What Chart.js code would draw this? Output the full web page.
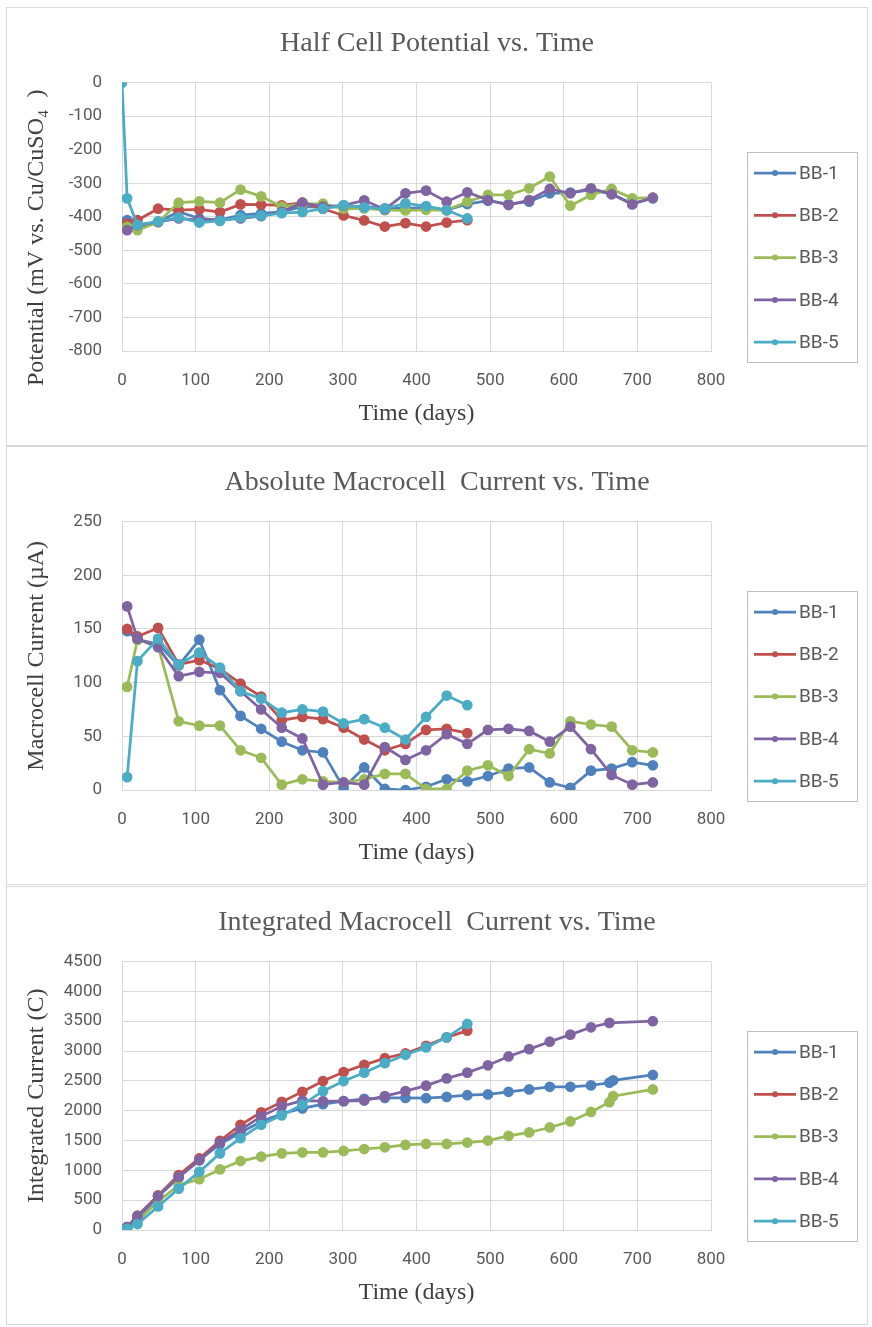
<!DOCTYPE html>
<html>
<head>
<meta charset="utf-8">
<script src="https://cdn.jsdelivr.net/npm/chart.js@4.4.1/dist/chart.umd.min.js"></script>
<style>
  body { margin: 0; background: #fff; width: 872px; height: 1327px; position: relative; overflow: hidden; }
  .panel { position: absolute; left: 6px; width: 860px; height: 437px; border: 1px solid #d9d9d9; background: #fff; }
  .panel canvas { display: block; }
</style>
</head>
<body>
<div class="panel" style="top:7px"><canvas id="chart-potential" width="860" height="437"></canvas></div>
<div class="panel" style="top:446px"><canvas id="chart-current" width="860" height="437"></canvas></div>
<div class="panel" style="top:886px"><canvas id="chart-integrated" width="860" height="437"></canvas></div>
<script>
// Serier och färger
const seriesNames = ["BB-1", "BB-2", "BB-3", "BB-4", "BB-5"];
const seriesColors = ["#4F81BD", "#C0504D", "#9BBB59", "#8064A2", "#4BACC6"];

// Mätdagar (dagar)
const days = [0, 7, 21, 49, 77, 105, 133, 161, 189, 217, 245, 273, 301, 329, 357, 385, 413, 441, 469, 497, 525, 553, 581, 609, 637, 665, 693, 721];
const daysIntegrated = [0, 7, 21, 49, 77, 105, 133, 161, 189, 217, 245, 273, 301, 329, 357, 385, 413, 441, 469, 497, 525, 553, 581, 609, 637, 662, 667, 721];

// Halvcellspotential (mV vs. Cu/CuSO4)
const potentialBB1 = [null, -410, -430, -415, -385, -405, -410, -395, -390, -385, -370, -372, -370, -370, -375, -375, -372, -380, -362, -352, -362, -355, -330, -328, -320, -332, -360, -345];
const potentialBB2 = [null, -420, -410, -376, -380, -378, -386, -363, -364, -366, -358, -376, -396, -411, -429, -419, -429, -417, -410, null, null, null, null, null, null, null, null, null];
const potentialBB3 = [null, -430, -440, -416, -358, -354, -358, -319, -339, -370, -362, -361, -376, -375, -380, -381, -379, -380, -355, -335, -335, -315, -280, -367, -335, -317, -345, -343];
const potentialBB4 = [null, -440, -425, -415, -405, -410, -410, -405, -398, -385, -358, -370, -366, -351, -378, -330, -322, -355, -327, -350, -365, -350, -317, -330, -315, -333, -363, -343];
const potentialBB5 = [0, -345, -424, -414, -402, -417, -412, -402, -397, -389, -386, -376, -365, -372, -376, -360, -368, -380, -405, null, null, null, null, null, null, null, null, null];

// Makrocellström (µA)
const currentBB1 = [null, 148, 140, 136, 116, 140, 93, 69, 57, 45, 37, 35, 2, 21, 1, 0, 3, 10, 8, 13, 20, 21, 7, 2, 18, 20, 26, 23];
const currentBB2 = [null, 150, 143, 151, 117, 121, 113, 99, 87, 65, 68, 66, 58, 47, 37, 43, 56, 57, 53, null, null, null, null, null, null, null, null, null];
const currentBB3 = [null, 96, 140, 134, 64, 60, 60, 37, 30, 5, 10, 8, 7, 10, 15, 15, 1, 1, 18, 23, 13, 38, 34, 64, 61, 59, 37, 35];
const currentBB4 = [null, 171, 141, 133, 106, 110, 109, 92, 75, 58, 48, 5, 7, 5, 40, 28, 37, 52, 43, 56, 57, 55, 45, 59, 38, 14, 5, 7];
const currentBB5 = [null, 12, 120, 141, 117, 128, 114, 92, 85, 72, 75, 73, 62, 66, 58, 47, 68, 88, 79, null, null, null, null, null, null, null, null, null];

// Integrerad ström (C)
const integratedBB1 = [0, 40, 180, 560, 880, 1170, 1440, 1630, 1820, 1950, 2040, 2110, 2160, 2200, 2215, 2215, 2210, 2232, 2260, 2272, 2317, 2356, 2401, 2401, 2424, 2469, 2508, 2599];
const integratedBB2 = [0, 50, 240, 580, 920, 1200, 1494, 1764, 1973, 2148, 2317, 2497, 2649, 2768, 2880, 2960, 3089, 3230, 3343, null, null, null, null, null, null, null, null, null];
const integratedBB3 = [0, 30, 150, 480, 750, 851, 1015, 1156, 1229, 1285, 1302, 1302, 1325, 1358, 1387, 1426, 1443, 1443, 1466, 1500, 1578, 1635, 1719, 1821, 1979, 2142, 2244, 2356];
const integratedBB4 = [0, 50, 231, 569, 890, 1172, 1466, 1680, 1905, 2074, 2170, 2159, 2159, 2170, 2244, 2328, 2420, 2542, 2638, 2762, 2909, 3033, 3157, 3275, 3399, 3472, null, 3500];
const integratedBB5 = [0, 20, 100, 395, 693, 975, 1285, 1539, 1764, 1922, 2103, 2328, 2497, 2638, 2796, 2937, 3061, 3230, 3455, null, null, null, null, null, null, null, null, null];

const serifFont = "'Liberation Serif', 'Times New Roman', serif";
const sansFont = "'Liberation Sans Narrow', Roboto, sans-serif";
const textColor = "#595959";
const gridColor = "#d9d9d9";

// Gör om dag + värde till punkter, hoppar över tomma värden
const toPoints = (xs, ys) => xs.map((x, i) => ({ x: x, y: ys[i] })).filter((p) => p.y !== null);

// Egen legend i ruta till höger, som i Excel
const boxLegend = {
  id: "boxLegend",
  afterDraw(chart) {
    const ctx = chart.ctx;
    const left = 740, top = 144, width = 110, height = 210;
    ctx.save();
    ctx.strokeStyle = "#bfbfbf";
    ctx.lineWidth = 1;
    ctx.strokeRect(left + 0.5, top + 0.5, width, height);
    ctx.font = "19px " + sansFont;
    ctx.textBaseline = "middle";
    seriesNames.forEach((name, i) => {
      const y = top + 21 + i * 42.3;
      ctx.strokeStyle = seriesColors[i];
      ctx.lineWidth = 2.75;
      ctx.beginPath();
      ctx.moveTo(left + 7, y);
      ctx.lineTo(left + 49, y);
      ctx.stroke();
      ctx.fillStyle = seriesColors[i];
      ctx.beginPath();
      ctx.arc(left + 28, y, 3, 0, Math.PI * 2);
      ctx.fill();
      ctx.fillStyle = textColor;
      ctx.fillText(name, left + 52, y + 1);
    });
    ctx.restore();
  },
};

const makeChart = (canvasId, xs, seriesList, title, yTitle, yMin, yMax, yStep) => {
  new Chart(document.getElementById(canvasId), {
    type: "line",
    data: {
      datasets: seriesList.map((values, i) => ({
        label: seriesNames[i],
        data: toPoints(xs, values),
        borderColor: seriesColors[i],
        backgroundColor: seriesColors[i],
        borderWidth: 2.75,
        pointRadius: 4,
        pointHoverRadius: 4,
        tension: 0,
        order: seriesList.length - i, // BB-5 överst
      })),
    },
    options: {
      responsive: false,
      animation: false,
      layout: { padding: 0 },
      plugins: {
        legend: { display: false },
        tooltip: { enabled: false },
        title: {
          display: true,
          text: title,
          color: textColor,
          font: { family: serifFont, size: 28, weight: "normal" },
          padding: { top: 19, bottom: 22 },
        },
      },
      scales: {
        x: {
          type: "linear",
          min: 0,
          max: 800,
          ticks: { stepSize: 100, color: textColor, font: { family: sansFont, size: 17 }, padding: 20 },
          grid: { color: gridColor, drawTicks: false },
          border: { color: gridColor },
          title: {
            display: true,
            text: "Time (days)",
            color: "#404040",
            font: { family: serifFont, size: 24 },
            padding: { bottom: 17 },
          },
          afterFit: (scale) => { scale.height = 94; },
        },
        y: {
          min: yMin,
          max: yMax,
          ticks: {
            stepSize: yStep,
            color: textColor,
            font: { family: sansFont, size: 17 },
            padding: 20,
            callback: (value) => String(value),
          },
          grid: { color: gridColor, drawTicks: false },
          border: { color: gridColor },
          title: {
            display: true,
            text: yTitle,
            color: "#404040",
            font: { family: serifFont, size: 24 },
            padding: { top: 15 },
          },
          afterFit: (scale) => { scale.width = 115; },
        },
        // tom axel till höger som ger plats åt legenden
        legendSpace: {
          position: "right",
          min: 0,
          max: 1,
          ticks: { display: false },
          grid: { display: false },
          border: { display: false },
          afterFit: (scale) => { scale.width = 156; },
        },
      },
    },
    plugins: [boxLegend],
  });
};

makeChart("chart-potential", days,
  [potentialBB1, potentialBB2, potentialBB3, potentialBB4, potentialBB5],
  "Half Cell Potential vs. Time", "Potential (mV vs. Cu/CuSO₄  )       ", -800, 0, 100);

makeChart("chart-current", days,
  [currentBB1, currentBB2, currentBB3, currentBB4, currentBB5],
  "Absolute Macrocell  Current vs. Time", "Macrocell Current (µA)", 0, 250, 50);

makeChart("chart-integrated", daysIntegrated,
  [integratedBB1, integratedBB2, integratedBB3, integratedBB4, integratedBB5],
  "Integrated Macrocell  Current vs. Time", "Integrated Current (C)", 0, 4500, 500);
</script>
</body>
</html>
